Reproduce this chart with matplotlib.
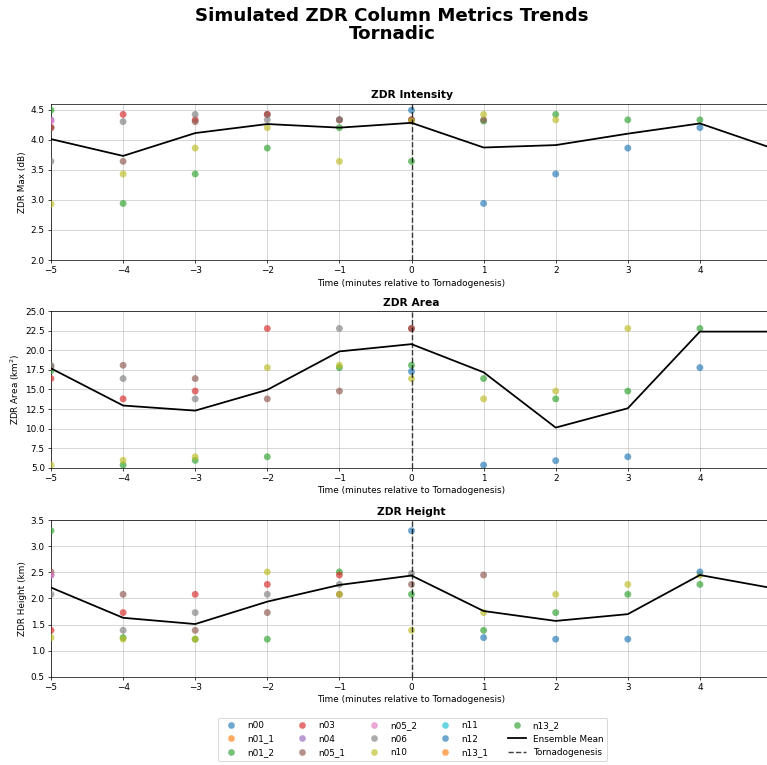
import numpy as np
import matplotlib
matplotlib.use('Agg')
import matplotlib.pyplot as plt
from matplotlib.lines import Line2D

# time steps (minutes relative to tornadogenesis)
times = [-5, -4, -3, -2, -1, 0, 1, 2, 3, 4, 5]
members = ['n00', 'n01_1', 'n01_2', 'n03', 'n04', 'n05_1', 'n05_2',
           'n06', 'n10', 'n11', 'n12', 'n13_1', 'n13_2']
N = None

# ZDR max (dB) per member
zdr_max = {
    'n01_2': [4.49, 2.94, 3.43, 3.86, 4.20, 3.64, 4.31, 4.42, 4.33, 4.33, N],
    'n03':   [4.20, 4.42, 4.33, 4.42, 4.33, 4.33, N, N, N, N, N],
    'n04':   [4.33, N, N, N, N, N, N, N, N, N, N],
    'n05_1': [4.20, 3.64, 4.30, 4.42, 4.33, 4.33, 4.33, N, N, N, N],
    'n05_2': [4.31, N, N, N, N, N, N, N, N, N, N],
    'n06':   [3.64, 4.30, 4.42, 4.33, 4.33, N, N, N, N, N, N],
    'n10':   [2.93, 3.43, 3.86, 4.20, 3.64, 4.31, 4.42, 4.33, N, N, N],
    'n12':   [N, N, N, N, N, 4.49, 2.94, 3.43, 3.86, 4.20, N],
}
zdr_max_mean = [4.01, 3.73, 4.11, 4.26, 4.20, 4.28, 3.87, 3.91, 4.10, 4.27, 3.86]

# ZDR area (km^2)
zdr_area = {
    'n01_2': [17.4, 5.34, 5.94, 6.4, 17.8, 18.1, 16.4, 13.8, 14.8, 22.8, N],
    'n03':   [16.4, 13.8, 14.8, 22.8, N, 22.8, N, N, N, N, N],
    'n05_1': [17.9, 18.1, 16.4, 13.8, 14.8, 22.8, N, N, N, N, N],
    'n06':   [18.1, 16.4, 13.8, N, 22.8, N, N, N, N, N, N],
    'n10':   [5.34, 5.94, 6.4, 17.8, 18.1, 16.4, 13.8, 14.8, 22.8, N, N],
    'n12':   [N, N, N, N, N, 17.3, 5.34, 5.9, 6.4, 17.8, N],
}
zdr_area_mean = [17.7, 12.95, 12.3, 14.96, 19.87, 20.8, 17.2, 10.13, 12.6, 22.4, 22.4]

# ZDR column height (km)
zdr_height = {
    'n01_2': [3.30, 1.25, 1.22, 1.22, 2.51, 2.08, 1.39, 1.73, 2.08, 2.27, N],
    'n03':   [1.39, 1.73, 2.08, 2.27, 2.45, N, N, N, N, N, N],
    'n04':   [2.45, N, N, N, N, N, N, N, N, N, N],
    'n05_1': [2.51, 2.08, 1.39, 1.73, 2.08, 2.27, 2.45, N, N, N, N],
    'n05_2': [2.45, N, N, N, N, N, N, N, N, N, N],
    'n06':   [2.08, 1.39, 1.73, 2.08, 2.27, 2.48, N, N, N, N, N],
    'n10':   [1.25, 1.22, 1.22, 2.51, 2.08, 1.39, 1.73, 2.08, 2.27, 2.45, N],
    'n12':   [N, N, N, N, N, 3.30, 1.25, 1.22, 1.22, 2.51, N],
}
zdr_height_mean = [2.21, 1.63, 1.51, 1.94, 2.26, 2.44, 1.76, 1.57, 1.70, 2.45, 2.20]

colors = {m: plt.cm.tab10(i % 10) for i, m in enumerate(members)}

panels = [
    ('ZDR Intensity', 'ZDR Max (dB)', zdr_max, zdr_max_mean, (2.0, 4.6)),
    ('ZDR Area', 'ZDR Area (km$^2$)', zdr_area, zdr_area_mean, (5.0, 25.0)),
    ('ZDR Height', 'ZDR Height (km)', zdr_height, zdr_height_mean, (0.5, 3.5)),
]
bottoms = [0.6601, 0.3886, 0.1154]

fig = plt.figure(figsize=(767 / 64, 765 / 64), dpi=64)

for (title, ylab, data, mean, ylim), b in zip(panels, bottoms):
    ax = fig.add_axes([51 / 767, b, 721 / 767, 0.2045])
    for m in members:
        if m not in data:
            continue
        vals = np.array([np.nan if v is None else v for v in data[m]], dtype=float)
        ax.scatter(times, vals, color=colors[m], alpha=0.65, s=60, edgecolors='none', zorder=3)
    ax.plot(times, mean, color='black', lw=2, zorder=4)
    # dashed line sits on top of the member dots
    ax.axvline(0, color='black', linestyle='--', lw=1.6, alpha=0.75, zorder=3.5)
    ax.set_xlim(-5, 5)
    ax.set_xticks(range(-5, 5))
    ax.set_ylim(*ylim)
    ax.set_title(title, fontweight='bold', fontsize=12)
    ax.set_ylabel(ylab)
    ax.set_xlabel('Time (minutes relative to Tornadogenesis)')
    ax.grid(True, alpha=0.7)

fig.text(392 / 767, 1 - 25 / 765, 'Simulated ZDR Column Metrics Trends\nTornadic',
         ha='center', va='center', fontsize=20.5, fontweight='bold', linespacing=1.0)

handles = [Line2D([], [], marker='o', linestyle='', color=colors[m], alpha=0.65,
                  markersize=7.5, markeredgewidth=0) for m in members]
handles.append(Line2D([], [], color='black', lw=2))
handles.append(Line2D([], [], color='black', lw=1.6, linestyle='--', alpha=0.75))
labels = members + ['Ensemble Mean', 'Tornadogenesis']
fig.legend(handles, labels, loc='lower center', bbox_to_anchor=(0.538, 0.0), ncol=5,
           columnspacing=2.2)

fig.savefig('out.png', dpi=64)
